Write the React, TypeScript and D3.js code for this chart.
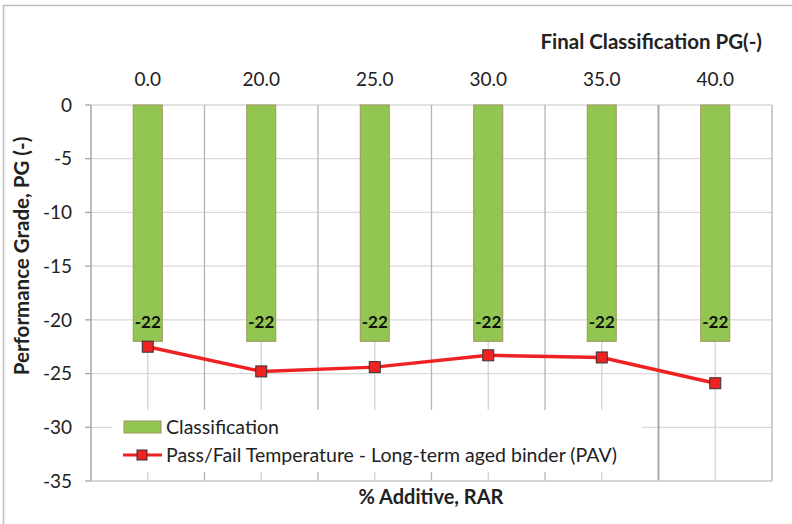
import React from "react";
import * as d3 from "d3";

const categories = ["0.0", "20.0", "25.0", "30.0", "35.0", "40.0"];
const classification = [-22, -22, -22, -22, -22, -22];
const passFail = [-22.5, -24.8, -24.4, -23.3, -23.5, -25.9];
const yTicks = [0, -5, -10, -15, -20, -25, -30, -35];

const W = 792;
const H = 524;
const font = "Lato, 'Open Sans', sans-serif";

export default function App() {
  const left = 91, right = 772, top = 105, bottom = 481;

  const x = d3.scaleBand<string>().domain(categories).range([left, right]).padding(0);
  const y = d3.scaleLinear().domain([0, -35]).range([top, bottom]);
  const barW = 29;

  const line = d3
    .line<number>()
    .x((_, i) => x(categories[i])! + x.bandwidth() / 2)
    .y((d) => y(d));

  const boundaries = categories.map((c) => x(c)! + x.bandwidth());

  return (
    <svg
      width={W}
      height={H}
      style={{ position: "fixed", left: 0, top: 0, background: "#fff", fontFamily: font }}
    >
      <rect x={3.5} y={5.5} width={W + 10} height={H + 10} fill="#fff" stroke="#BDBDBD" strokeWidth={1.5} />

      {/* horizontal gridlines */}
      {yTicks.slice(0, -1).map((t) => (
        <line key={"h" + t} x1={left} x2={right} y1={y(t)} y2={y(t)} stroke="#D9D9D9" strokeWidth={1.3} />
      ))}
      {/* vertical gridlines at centers */}
      {categories.map((c) => (
        <line
          key={"vc" + c}
          x1={x(c)! + x.bandwidth() / 2}
          x2={x(c)! + x.bandwidth() / 2}
          y1={top}
          y2={bottom}
          stroke="#D4D4D4"
          strokeWidth={1.3}
        />
      ))}
      {/* vertical gridlines at boundaries */}
      {boundaries.map((b, i) => (
        <line
          key={"vb" + i}
          x1={b}
          x2={b}
          y1={top}
          y2={bottom}
          stroke={i === 4 ? "#A8A8A8" : "#B4B4B4"}
          strokeWidth={i === 4 ? 2 : 1.3}
        />
      ))}

      {/* y axis */}
      <line x1={left} x2={left} y1={top} y2={bottom} stroke="#A6A6A6" strokeWidth={1.5} />
      {yTicks.map((t) => (
        <g key={"yt" + t}>
          <line x1={left - 6} x2={left} y1={y(t)} y2={y(t)} stroke="#A6A6A6" strokeWidth={1.3} />
          <text x={72} y={y(t)} dy="0.35em" textAnchor="end" fontSize={19} fill="#222">
            {t === 0 ? "0" : t}
          </text>
        </g>
      ))}
      <line x1={left} x2={right} y1={bottom} y2={bottom} stroke="#C8C8C8" strokeWidth={1.5} />

      {/* top category labels */}
      {categories.map((c) => (
        <text key={"xl" + c} x={x(c)! + x.bandwidth() / 2} y={86} textAnchor="middle" fontSize={19} fill="#222">
          {c}
        </text>
      ))}

      {/* bars */}
      {classification.map((v, i) => (
        <rect
          key={"b" + i}
          x={x(categories[i])! + x.bandwidth() / 2 - barW / 2}
          y={y(0)}
          width={barW}
          height={y(v) - y(0)}
          fill="#92C652"
          stroke="#A0925A"
          strokeWidth={1}
        />
      ))}
      {classification.map((v, i) => (
        <text
          key={"bl" + i}
          x={x(categories[i])! + x.bandwidth() / 2}
          y={y(v) - 13}
          textAnchor="middle"
          fontSize={17}
          fontWeight="bold"
          fill="#111"
        >
          {v}
        </text>
      ))}

      {/* legend */}
      <rect x={112} y={410} width={530} height={62} fill="#fff" />
      <rect x={124} y={421} width={37} height={12} fill="#92C652" stroke="#A0925A" strokeWidth={1} />
      <text x={166} y={427} dy="0.35em" fontSize={19.5} fill="#222">Classification</text>
      <line x1={123} x2={162} y1={455} y2={455} stroke="#EE2222" strokeWidth={3} />
      <rect x={137} y={450} width={10} height={10} fill="#EE2222" stroke="#333" strokeWidth={1} />
      <text x={166} y={455} dy="0.35em" fontSize={19.5} fill="#222">
        Pass/Fail Temperature - Long-term aged binder (PAV)
      </text>

      {/* pass/fail line */}
      <path d={line(passFail)!} fill="none" stroke="#EE2222" strokeWidth={3.5} />
      {passFail.map((v, i) => (
        <rect
          key={"m" + i}
          x={x(categories[i])! + x.bandwidth() / 2 - 5.5}
          y={y(v) - 5.5}
          width={11}
          height={11}
          fill="#EE2222"
          stroke="#333"
          strokeWidth={1}
        />
      ))}

      {/* titles */}
      <text x={762} y={49} textAnchor="end" fontSize={20.5} fontWeight="bold" fill="#222">
        Final Classification PG(-)
      </text>
      <text x={431} y={504} textAnchor="middle" fontSize={20} fontWeight="bold" fill="#222">
        % Additive, RAR
      </text>
      <text
        transform={`translate(29,256) rotate(-90)`}
        textAnchor="middle"
        fontSize={20.5}
        fontWeight="bold"
        fill="#222"
      >
        Performance Grade, PG (-)
      </text>
    </svg>
  );
}
